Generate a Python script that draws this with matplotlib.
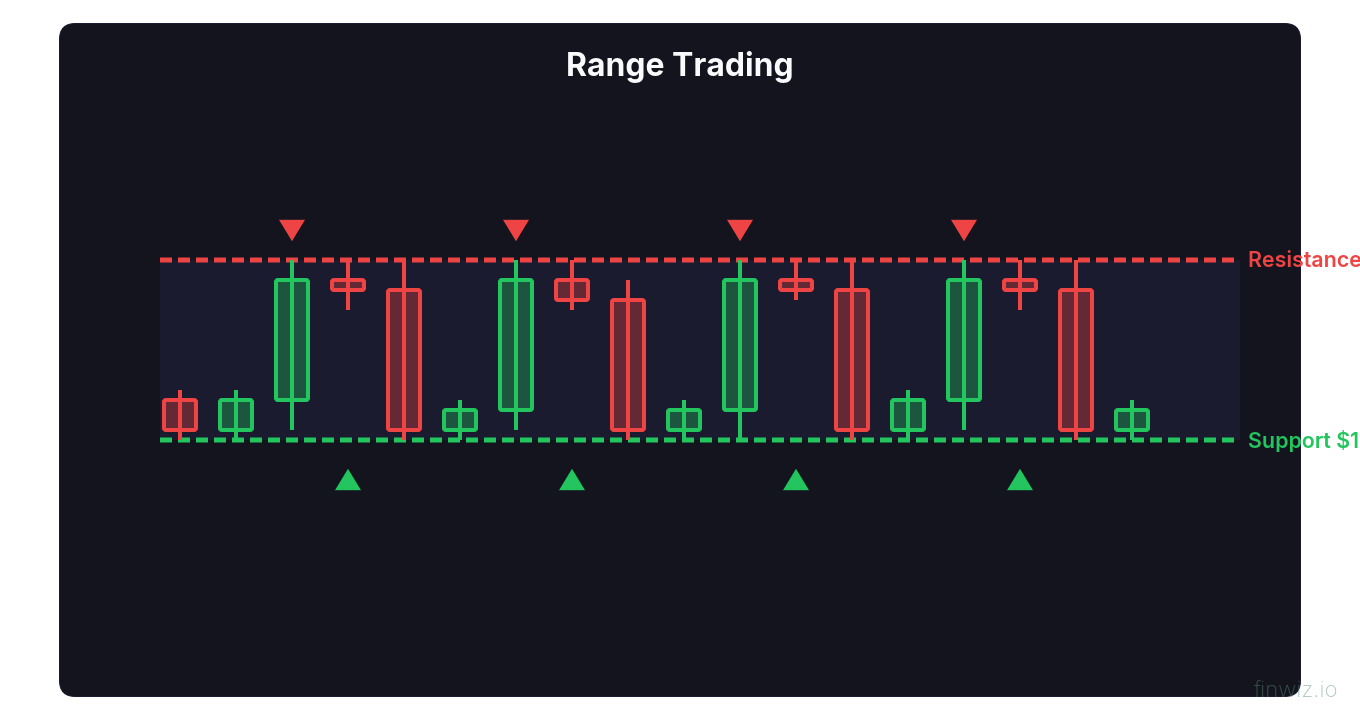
import matplotlib
matplotlib.use('Agg')
import matplotlib.pyplot as plt
from matplotlib.patches import FancyBboxPatch, Rectangle

# candles, oldest first
opens = [104, 101, 104, 116, 115, 101, 103, 116, 114, 101, 103, 116, 115, 101, 104, 116, 115, 101]
closes = [101, 104, 116, 115, 101, 103, 116, 114, 101, 103, 116, 115, 101, 104, 116, 115, 101, 103]
highs = [105, 105, 118, 118, 118, 104, 118, 118, 116, 104, 118, 118, 118, 105, 118, 118, 118, 104]
lows = [100, 100, 101, 113, 100, 100, 101, 113, 100, 100, 100, 114, 100, 100, 101, 113, 100, 100]

support = 100
resistance = 118
sell_idx = [2, 6, 10, 14]
buy_idx = [3, 7, 11, 15]
sell_level = 121.05
buy_level = 96.1

RED = '#ef4444'
GREEN = '#22c55e'
CARD = '#13141d'
BAND = '#1a1b2e'
PX = 0.72  # points per pixel at dpi 100

plt.rcParams['font.family'] = ['Inter', 'DejaVu Sans']

fig = plt.figure(figsize=(13.6, 7.2), dpi=100, facecolor='white')

# card behind everything, in pixel coords
bg = fig.add_axes([0, 0, 1, 1])
bg.set_xlim(0, 1360)
bg.set_ylim(720, 0)
bg.axis('off')
bg.add_patch(FancyBboxPatch((59.5, 23.5), 1241, 673, boxstyle='round,pad=0,rounding_size=16',
                            facecolor=CARD, edgecolor=BAND, linewidth=1 * PX))

# price axes: 56 px per candle, 10 px per dollar
ax = fig.add_axes([0, 0, 1, 1])
ax.set_xlim(-180 / 56, 1180 / 56)
ax.set_ylim(72, 144)
ax.axis('off')

x0 = -20 / 56
x1 = 1060 / 56
ax.add_patch(Rectangle((x0, support), x1 - x0, resistance - support, facecolor=BAND, edgecolor='none', zorder=1))

# 12 px dash, 6 px gap
ax.plot([x0, x1], [resistance, resistance], color=RED, lw=5 * PX, linestyle=(0, (2.4, 1.2)),
        dash_capstyle='butt', snap=False, zorder=2)
ax.plot([x0, x1], [support, support], color=GREEN, lw=5 * PX, linestyle=(0, (2.4, 1.2)),
        dash_capstyle='butt', snap=False, zorder=2)

body_w = 32 / 56
for i in range(len(opens)):
    col = GREEN if closes[i] > opens[i] else RED
    low_body = min(opens[i], closes[i])
    h = abs(closes[i] - opens[i])
    # fill with alpha, stroke solid
    for fc, ec in [(col, 'none'), ('none', col)]:
        box = FancyBboxPatch((i - body_w / 2, low_body), body_w, h,
                             boxstyle='round,pad=0,rounding_size=%f' % (2 / 56),
                             mutation_aspect=5.6, facecolor=fc, edgecolor=ec,
                             linewidth=4 * PX, alpha=0.35 if ec == 'none' else 1, zorder=3)
        ax.add_patch(box)
    ax.plot([i, i], [lows[i], highs[i]], color=col, lw=4 * PX, solid_capstyle='butt', zorder=4)

# flat triangles, wider than tall
down_tri = [(-13.5, 10.7), (12.5, 10.7), (-0.5, -10.7)]
up_tri = [(-13.5, -10.7), (12.5, -10.7), (-0.5, 10.7)]
size = (27 * PX) ** 2
ax.scatter(sell_idx, [sell_level] * len(sell_idx), marker=down_tri, s=size, color=RED, linewidths=0, zorder=5)
ax.scatter(buy_idx, [buy_level] * len(buy_idx), marker=up_tri, s=size, color=GREEN, linewidths=0, zorder=5)

ax.text(x1 + 8 / 56, resistance - 0.1, 'Resistance $118', color=RED, fontsize=15.4, fontweight='semibold',
        va='center', ha='left', zorder=6)
ax.text(x1 + 8 / 56, support - 0.1, 'Support $100', color=GREEN, fontsize=15.4, fontweight='semibold',
        va='center', ha='left', zorder=6)

bg.set_zorder(0)
ax.set_zorder(1)
fig.text(680 / 1360, 1 - 67 / 720, 'Range Trading', color='#f8fafc', fontsize=23, fontweight='bold',
         ha='center', va='center')
fig.text(1338 / 1360, 1 - 691 / 720, 'finwiz.io', color='#5a8f7c', alpha=0.5, fontsize=16, fontweight='light',
         ha='right', va='center')

fig.savefig('out.png', dpi=100)
